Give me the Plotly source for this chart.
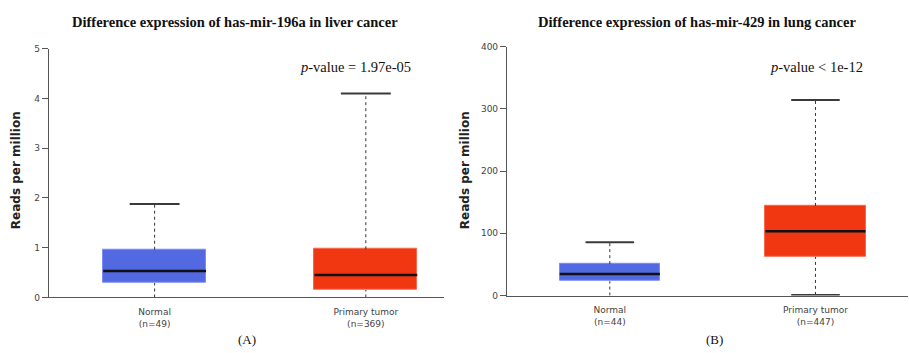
import plotly.graph_objects as go

W, H = 909, 353

groups = ["Normal", "Primary tumor"]
box_colors = ["#5369E1", "#F03712"]
box_edges = ["#7C8CF0", "#F8684A"]

# has-mir-196a in liver cancer (reads per million)
liver_n = [49, 369]
liver_min = [0.0, 0.0]
liver_q1 = [0.29, 0.15]
liver_median = [0.53, 0.45]
liver_q3 = [0.96, 0.97]
liver_max = [1.88, 4.10]
liver_title = "Difference expression of has-mir-196a in liver cancer"
liver_p = "<i>p</i>-value = 1.97e-05"

# has-mir-429 in lung cancer (reads per million)
lung_n = [44, 447]
lung_min = [0.0, 1.0]
lung_q1 = [23.0, 62.0]
lung_median = [34.5, 103.5]
lung_q3 = [50.5, 144.0]
lung_max = [85.5, 314.5]
lung_title = "Difference expression of has-mir-429 in lung cancer"
lung_p = "<i>p</i>-value < 1e-12"

BOX_W = 0.487
CAP_W = 0.236

fig = go.Figure()


def px_x(p):
    return p / W


def px_y(p):
    return 1 - p / H


def add_panel(xa, ya, ns, mins, q1, med, q3, maxs):
    xs = list(range(len(groups)))
    # dotted whiskers
    wx, wy = [], []
    for i in xs:
        wx += [i, i, None, i, i, None]
        wy += [q3[i], maxs[i], None, mins[i], q1[i], None]
    fig.add_trace(go.Scatter(x=wx, y=wy, mode="lines", xaxis=xa, yaxis=ya,
                             line=dict(color="#333333", width=1, dash="dot"),
                             hoverinfo="skip", showlegend=False))
    # whisker caps (a cap at zero sits under the axis line)
    cx, cy = [], []
    for i in xs:
        cx += [i - CAP_W / 2, i + CAP_W / 2, None]
        cy += [maxs[i], maxs[i], None]
        if mins[i] > 0:
            cx += [i - CAP_W / 2, i + CAP_W / 2, None]
            cy += [mins[i], mins[i], None]
    fig.add_trace(go.Scatter(x=cx, y=cy, mode="lines", xaxis=xa, yaxis=ya,
                             line=dict(color="#3a3a3a", width=2),
                             hoverinfo="skip", showlegend=False))
    # interquartile boxes
    fig.add_trace(go.Bar(x=xs, y=[q3[i] - q1[i] for i in xs], base=q1,
                         width=BOX_W, xaxis=xa, yaxis=ya,
                         marker=dict(color=box_colors,
                                     line=dict(color=box_edges, width=1)),
                         hoverinfo="skip", showlegend=False))
    # medians
    mx, my = [], []
    for i in xs:
        mx += [i - BOX_W / 2, i + BOX_W / 2, None]
        my += [med[i], med[i], None]
    fig.add_trace(go.Scatter(x=mx, y=my, mode="lines", xaxis=xa, yaxis=ya,
                             line=dict(color="#111111", width=2.5),
                             hoverinfo="skip", showlegend=False))
    return [f"{g}<br>(n={n})" for g, n in zip(groups, ns)]


liver_labels = add_panel("x", "y", liver_n, liver_min, liver_q1, liver_median,
                         liver_q3, liver_max)
lung_labels = add_panel("x2", "y2", lung_n, lung_min, lung_q1, lung_median,
                        lung_q3, lung_max)

tick_font = dict(family="DejaVu Sans", size=9, color="#444444")
axis_common = dict(showline=True, linecolor="#555555", linewidth=1.2,
                   showgrid=False, zeroline=False, tickfont=tick_font)

fig.update_layout(
    width=W, height=H,
    margin=dict(l=0, r=0, t=0, b=0),
    paper_bgcolor="white", plot_bgcolor="white",
    bargap=0,
    xaxis=dict(domain=[px_x(49), px_x(444)], range=[-0.5, 1.37],
               tickvals=[0, 1], ticktext=liver_labels, ticks="",
               ticklabelstandoff=6, anchor="y", **axis_common),
    yaxis=dict(domain=[px_y(301), px_y(45)], range=[0, 5], dtick=1,
               ticks="outside", ticklen=6, tickcolor="#555555",
               anchor="x", **axis_common),
    xaxis2=dict(domain=[px_x(507), px_x(908)], range=[-0.5, 1.45],
                tickvals=[0, 1], ticktext=lung_labels, ticks="",
                ticklabelstandoff=6, anchor="y2", **axis_common),
    yaxis2=dict(domain=[px_y(299), px_y(43)], range=[0, 400], dtick=100,
                ticks="outside", ticklen=6, tickcolor="#555555",
                anchor="x2", **axis_common),
)

serif = "Liberation Serif"
notes = [
    (liver_title, 235, 18, dict(family=serif, size=14.5, color="#111"), "<b>%s</b>", 0),
    (lung_title, 697, 18, dict(family=serif, size=14.5, color="#111"), "<b>%s</b>", 0),
    (liver_p, 355, 64, dict(family=serif, size=14.5, color="#111"), "%s", 0),
    (lung_p, 816, 64, dict(family=serif, size=14.5, color="#111"), "%s", 0),
    ("Reads per million", 16, 170, dict(family="DejaVu Sans", size=12, color="#222"), "<b>%s</b>", -90),
    ("Reads per million", 465, 170, dict(family="DejaVu Sans", size=12, color="#222"), "<b>%s</b>", -90),
    ("(A)", 247, 344, dict(family=serif, size=13, color="#111"), "%s", 0),
    ("(B)", 714, 344, dict(family=serif, size=13, color="#111"), "%s", 0),
]
for text, x, y, font, fmt, angle in notes:
    fig.add_annotation(text=fmt % text, x=px_x(x), y=px_y(y), xref="paper",
                       yref="paper", xanchor="center", yanchor="middle",
                       showarrow=False, font=font, textangle=angle)

fig.write_html("out.html")
